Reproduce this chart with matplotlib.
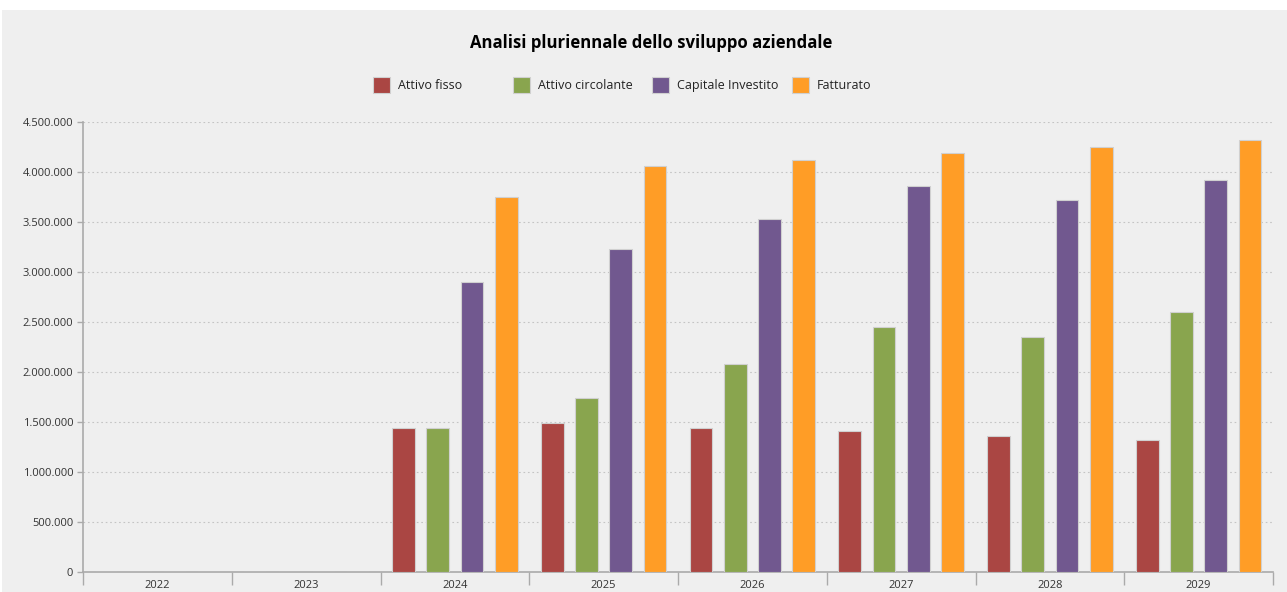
import numpy as np
import matplotlib.pyplot as plt
from matplotlib.patches import Rectangle
from matplotlib.ticker import FuncFormatter, FixedLocator, MultipleLocator

anni = ["2022", "2023", "2024", "2025", "2026", "2027", "2028", "2029"]
attivo_fisso = [0, 0, 1444000, 1490000, 1444000, 1407000, 1360000, 1317000]
attivo_circolante = [0, 0, 1437000, 1737000, 2080000, 2454000, 2350000, 2597000]
capitale_investito = [0, 0, 2897000, 3234000, 3534000, 3860000, 3717000, 3924000]
fatturato = [0, 0, 3750000, 4064000, 4117000, 4187000, 4254000, 4324000]

serie = ["Attivo fisso", "Attivo circolante", "Capitale Investito", "Fatturato"]
colori = ["#AA4643", "#89A54E", "#71588F", "#FF9D26"]
SFONDO = "#efefef"


def migliaia(v, pos):
    return f"{int(round(v)):,}".replace(",", ".")


def main():
    plt.rcParams['font.family'] = ['Open Sans', 'DejaVu Sans']
    fig = plt.figure(figsize=(12.87, 5.92), dpi=100, facecolor="white")
    W, H = 1287.0, 592.0
    # pannello grigio di fondo
    fig.patches.append(Rectangle((2 / W, 0), 1, (H - 10) / H, transform=fig.transFigure,
                                 facecolor=SFONDO, edgecolor="none", zorder=-10))

    ax = fig.add_axes([83 / W, 20 / H, (1273 - 83) / W, 450 / H])
    ax.set_facecolor(SFONDO)

    x = np.arange(len(anni))
    passo = 0.2306
    larghezza = 0.1525
    dati = [attivo_fisso, attivo_circolante, capitale_investito, fatturato]
    for i, (valori, colore) in enumerate(zip(dati, colori)):
        ax.bar(x + (i - 1.5) * passo, valori, width=larghezza, color=colore,
               edgecolor="#d0d0d0", linewidth=0.8, zorder=3)

    ax.set_xlim(-0.5, len(anni) - 0.5)
    ax.set_ylim(0, 4500000)
    ax.yaxis.set_major_locator(MultipleLocator(500000))
    ax.yaxis.set_major_formatter(FuncFormatter(migliaia))
    ax.grid(axis="y", color="#c4c4c4", linestyle=(0, (1.5, 2.5)), linewidth=0.8, zorder=0)

    # tacche ai confini delle categorie, etichette al centro
    ax.xaxis.set_major_locator(FixedLocator(np.arange(-0.5, len(anni), 1.0)))
    ax.xaxis.set_major_formatter(FuncFormatter(lambda v, p: ""))
    ax.xaxis.set_minor_locator(FixedLocator(x))
    ax.set_xticklabels(anni, minor=True)
    ax.tick_params(axis="x", which="major", length=9, width=1, color="#aaaaaa")
    ax.tick_params(axis="x", which="minor", length=0, pad=6, labelsize=8, labelcolor="#333333")
    ax.tick_params(axis="y", length=4, width=1, color="#aaaaaa", labelsize=8,
                   labelcolor="#333333", pad=3)

    for lato in ["top", "right"]:
        ax.spines[lato].set_visible(False)
    for lato in ["left", "bottom"]:
        ax.spines[lato].set_color("#aaaaaa")
        ax.spines[lato].set_linewidth(1.2)

    fig.text(651 / W, 1 - 43 / H, "Analisi pluriennale dello sviluppo aziendale",
             ha="center", va="center", fontsize=12.1, fontweight="bold", color="black")

    # legenda a colonne fisse
    for i, (nome, colore) in enumerate(zip(serie, colori)):
        x0 = (373 + i * 139.7) / W
        fig.patches.append(Rectangle((x0, 1 - 93 / H), 17 / W, 16 / H, transform=fig.transFigure,
                                     facecolor=colore, edgecolor="#d0d0d0", linewidth=0.8))
        fig.text(x0 + 25 / W, 1 - 85 / H, nome, ha="left", va="center",
                 fontsize=9, color="#222222")

    plt.savefig("out.png", dpi=100, facecolor=fig.get_facecolor())
    plt.close()


if __name__ == '__main__':
    main()
